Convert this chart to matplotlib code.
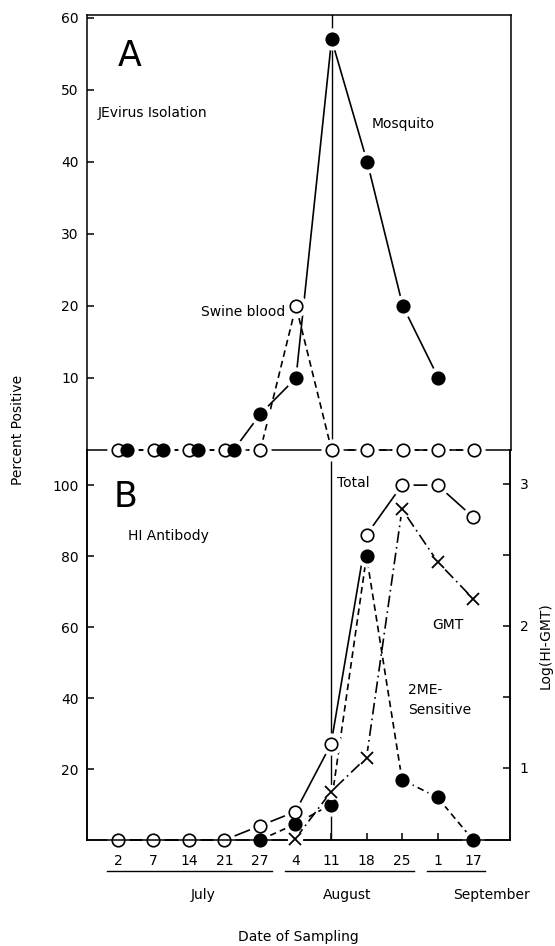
import numpy as np
import matplotlib
matplotlib.use("Agg")
import matplotlib.pyplot as plt
import matplotlib.transforms as mtransforms

# sampling dates (categorical positions 0..10)
dates = ["2", "7", "14", "21", "27", "4", "11", "18", "25", "1", "17"]
months = ["July", "August", "September"]
month_counts = [5, 4, 2]

# panel A: JE virus isolation (percent positive)
mosquito = [0, 0, 0, 0, 5, 10, 57, 40, 20, 10, np.nan]
swine_blood = [0, 0, 0, 0, 0, 20, 0, 0, 0, 0, 0]

# panel B: HI antibody (percent positive) and log(HI-GMT)
total_hi = [0, 0, 0, 0, 4, 8, 27, 86, 100, 100, 91]
me2_sensitive = [np.nan, np.nan, np.nan, np.nan, 0, 4.5, 10, 80, 17, 12, 0]
gmt_log = [np.nan, np.nan, np.nan, np.nan, np.nan, 0.5, 0.83, 1.07, 2.82, 2.45, 2.19]

plt.rcParams['font.family'] = ['DejaVu Sans']
FS = 10
LW = 1.2

W, H = 555, 946
fig = plt.figure(figsize=(W / 100, H / 100), dpi=100)


def px_box(l, t, r, b):
    return [l / W, 1 - b / H, (r - l) / W, (b - t) / H]


ax_b = fig.add_axes(px_box(87, 450, 510, 840))
ax_g = ax_b.twinx()
ax_a = fig.add_axes(px_box(87, 15, 511, 450))
ax_a.patch.set_visible(False)
ax_b.patch.set_visible(False)
ax_g.patch.set_visible(False)

x = np.arange(len(dates))
xlim = (-0.871, 11.04)
for ax in (ax_a, ax_b, ax_g):
    ax.set_xlim(*xlim)
    for sp in ax.spines.values():
        sp.set_linewidth(1.1)

ax_a.set_ylim(0, 60.4)
ax_b.set_ylim(0, 109.9)
ax_g.set_ylim(0.49, 3.237)


def series(ax, xs, ys, ls, marker='o', filled=False, ms=9, dashes=None, halo=15):
    kw = dict(color='black', lw=LW, ls=ls, zorder=2, clip_on=False)
    if dashes is not None:
        kw['dashes'] = dashes
    ax.plot(xs, ys, **kw)
    # white halo so lines stop short of the symbols, like the hand-drawn original
    ax.plot(xs, ys, ls='none', marker='o', ms=halo, mfc='white', mec='white',
            zorder=3, clip_on=False)
    if marker == 'x':
        ax.plot(xs, ys, ls='none', marker='x', ms=ms, mew=1.3, color='black',
                zorder=4, clip_on=False)
    else:
        ax.plot(xs, ys, ls='none', marker='o', ms=ms, mew=1.2, mec='black',
                mfc='black' if filled else 'white', zorder=4, clip_on=False)


# ---- panel A ----
ax_a.axvline(6, color='black', lw=1.0, zorder=1.5)
series(ax_a, x, swine_blood, '--', dashes=(4, 2.5))
mos_x = x + np.where(np.array(mosquito) == 0, 0.25, 0.0)
series(ax_a, mos_x, mosquito, '-', filled=True)

ax_a.set_xticks([])
ax_a.set_yticks([10, 20, 30, 40, 50, 60])
ax_a.tick_params(axis='y', direction='in', length=5, width=1.1, labelsize=FS, pad=6)

ax_a.text(0.101, 0.905, "A", transform=ax_a.transAxes, fontsize=25,
          ha='center', va='center')
ax_a.text(0.026, 0.775, "JEvirus Isolation", transform=ax_a.transAxes,
          fontsize=FS, ha='left', va='center')
ax_a.text(0.672, 0.749, "Mosquito", transform=ax_a.transAxes,
          fontsize=FS, ha='left', va='center')
ax_a.text(0.468, 0.317, "Swine blood", transform=ax_a.transAxes,
          fontsize=FS, ha='right', va='center')

# ---- panel B ----
ax_b.spines['top'].set_visible(False)
ax_g.spines['top'].set_visible(False)
ax_b.axvline(6, color='black', lw=1.0, zorder=1.5)
series(ax_b, x, me2_sensitive, '--', filled=True, dashes=(4, 2.5))
series(ax_b, x, total_hi, '-')
series(ax_g, x, gmt_log, '-.', marker='x', dashes=(7, 2.5, 1, 2.5), halo=10)

ax_b.set_yticks([20, 40, 60, 80, 100])
ax_b.set_xticks(x, labels=dates)
ax_b.tick_params(axis='y', direction='in', length=5, width=1.1, labelsize=FS, pad=6)
ax_b.tick_params(axis='x', direction='in', length=5, width=1.1, labelsize=FS, pad=10)
ax_g.set_yticks([1, 1.5, 2, 2.5, 3], labels=["1", "", "2", "", "3"])
ax_g.tick_params(axis='y', direction='in', length=5, width=1.1, labelsize=FS, pad=7)

ax_b.text(0.092, 0.879, "B", transform=ax_b.transAxes, fontsize=25,
          ha='center', va='center')
ax_b.text(0.097, 0.779, "HI Antibody", transform=ax_b.transAxes,
          fontsize=FS, ha='left', va='center')
ax_b.text(0.591, 0.915, "Total", transform=ax_b.transAxes,
          fontsize=FS, ha='left', va='center')
ax_b.text(0.816, 0.551, "GMT", transform=ax_b.transAxes,
          fontsize=FS, ha='left', va='center')
ax_b.text(0.76, 0.385, "2ME-", transform=ax_b.transAxes,
          fontsize=FS, ha='left', va='center')
ax_b.text(0.76, 0.333, "Sensitive", transform=ax_b.transAxes,
          fontsize=FS, ha='left', va='center')

# month groups under the date labels
trans = mtransforms.blended_transform_factory(ax_b.transData, ax_b.transAxes)
month_centers = [2.39, 6.46, 10.53]
start = 0
for name, cnt, cx in zip(months, month_counts, month_centers):
    end = start + cnt - 1
    ax_b.plot([start - 0.3, end + 0.35], [-0.08, -0.08], color='black', lw=1.0,
              transform=trans, clip_on=False)
    ax_b.text(cx, -0.141, name, transform=trans, fontsize=FS,
              ha='center', va='center')
    start = end + 1

ax_b.text(0.5, -0.249, "Date of Sampling", transform=ax_b.transAxes,
          fontsize=FS, ha='center', va='center')

fig.text(0.032, 0.545, "Percent Positive", rotation=90, fontsize=FS,
         ha='center', va='center')
fig.text(0.983, 0.318, "Log(HI-GMT)", rotation=90, fontsize=FS,
         ha='center', va='center')

fig.savefig("out.png", dpi=100)
